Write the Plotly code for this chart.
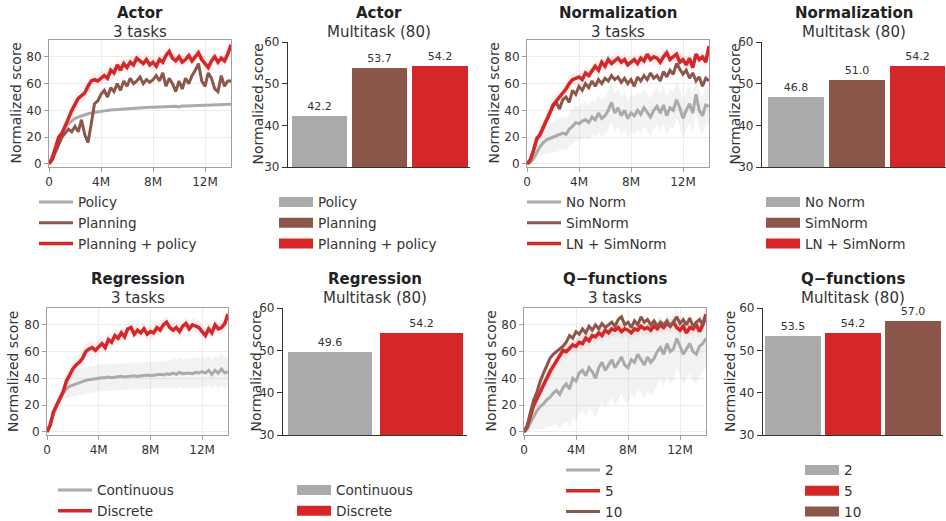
import plotly.graph_objects as go

W, H = 946, 521
FONT = "DejaVu Sans"
RED, BROWN, GRAY = "#d62728", "#8c564b", "#aaaaaa"
BAND_GRAY = "rgba(170,170,170,0.15)"
BAND_RED = "rgba(214,39,40,0.07)"

# x positions (environment steps, millions)
STEPS_M = [0.0, 0.25, 0.5, 0.75, 1.0, 1.25, 1.5, 1.75,
           2.0, 2.25, 2.5, 2.75, 3.0, 3.25, 3.5, 3.75,
           4.0, 4.25, 4.5, 4.75, 5.0, 5.25, 5.5, 5.75,
           6.0, 6.25, 6.5, 6.75, 7.0, 7.25, 7.5, 7.75,
           8.0, 8.25, 8.5, 8.75, 9.0, 9.25, 9.5, 9.75,
           10.0, 10.25, 10.5, 10.75, 11.0, 11.25, 11.5, 11.75,
           12.0, 12.25, 12.5, 12.75, 13.0, 13.25, 13.5, 13.75,
           14.0]
X_TICKVALS = [0, 4, 8, 12]
X_TICKTEXT = ["0", "4M", "8M", "12M"]

# faint spread around the red (best) curves
red_spread = [0, 1, 2, 3, 4, 5, 5, 6,
              6, 6, 6, 6, 6, 6, 5, 5,
              5, 5, 5, 5, 5, 5, 5, 5,
              5, 5, 5, 5, 5, 5, 5, 5,
              5, 5, 5, 5, 5, 5, 5, 5,
              5, 5, 5, 5, 5, 5, 5, 5,
              5, 5, 5, 5, 5, 5, 5, 5,
              4]

# ---- Actor, 3 tasks
actor_policy = [0, 6, 12, 18, 23, 27, 30, 32,
                34, 35, 36, 37, 37.5, 38, 38.5, 39,
                39.5, 39.8, 40, 40.3, 40.5, 40.8, 41, 41,
                41.3, 41.5, 41.6, 41.8, 42, 42, 42.1, 42.3,
                42.4, 42.5, 42.5, 42.7, 42.8, 43, 43, 43.1,
                42.5, 43.2, 43.3, 43.4, 43.5, 43.5, 43.6, 43.8,
                43.8, 44, 44, 44.1, 44.2, 44.3, 44.4, 44.5,
                44.5]
actor_planning = [0, 3, 9, 15, 20, 23, 26, 24,
                  28, 24, 33, 22, 16, 30, 45, 47,
                  52, 55, 50, 57, 54, 60, 55, 62,
                  58, 64, 60, 62, 65, 60, 63, 61,
                  63, 66, 62, 68, 58, 64, 60, 54,
                  62, 56, 64, 60, 66, 70, 75, 62,
                  58, 68, 64, 56, 54, 66, 58, 62,
                  62]
actor_both = [0, 4, 12, 20, 23, 28, 34, 40,
              45, 49, 51, 53, 58, 62, 63, 62,
              64, 66, 64, 70, 68, 74, 70, 75,
              72, 76, 74, 79, 77, 75, 78, 74,
              76, 73, 78, 76, 81, 84, 79, 77,
              80, 76, 78, 81, 77, 80, 83, 78,
              75, 72, 77, 80, 76, 79, 77, 82,
              89]

# ---- Normalization, 3 tasks
norm_none = [0, 1, 4, 9, 13, 16, 18, 19,
             20, 21, 22, 23, 22, 26, 28, 31,
             30, 32, 33, 31, 35, 33, 38, 34,
             36, 40, 46, 38, 42, 36, 40, 34,
             38, 36, 40, 37, 42, 38, 35, 40,
             43, 38, 44, 36, 42, 40, 48, 42,
             34, 40, 45, 38, 52, 40, 36, 44,
             43]
norm_none_spread = [0, 1, 3, 5, 7, 9, 10, 11,
                    11, 12, 12, 12, 12, 12, 13, 13,
                    13, 13, 13, 13, 13, 13, 14, 14,
                    14, 14, 14, 14, 14, 14, 14, 14,
                    14, 14, 14, 14, 14, 14, 14, 14,
                    14, 14, 14, 14, 14, 14, 14, 14,
                    14, 14, 14, 14, 14, 14, 14, 14,
                    14]
norm_simnorm = [0, 3, 10, 18, 22, 27, 33, 38,
                43, 46, 41, 48, 50, 46, 55, 52,
                58, 55, 60, 57, 62, 58, 63, 60,
                64, 62, 66, 63, 65, 61, 64, 60,
                63, 58, 65, 62, 66, 63, 68, 64,
                66, 62, 69, 65, 70, 67, 75, 71,
                67, 70, 64, 68, 62, 65, 58, 64,
                62]
norm_ln_simnorm = [0, 3, 10, 19, 22, 27, 33, 38,
                   44, 47, 49, 52, 56, 60, 63, 64,
                   65, 63, 68, 66, 70, 73, 70, 76,
                   73, 78, 75, 77, 79, 76, 78, 74,
                   76, 78, 75, 79, 77, 82, 78, 80,
                   79, 76, 80, 83, 78, 80, 82, 76,
                   78, 74, 79, 72, 82, 78, 80, 76,
                   88]

# ---- Regression, 3 tasks
reg_continuous = [0, 6, 13, 20, 25, 29, 32, 34,
                  35, 36, 37, 38, 38.5, 39, 39.5, 40,
                  40, 40.5, 40.5, 41, 40.5, 41, 41, 41.5,
                  41, 41.5, 41.5, 42, 41.5, 42, 42, 42.5,
                  42, 42.5, 42.5, 43, 42.5, 43.5, 43, 44,
                  43, 44.5, 43.5, 44, 44, 43.5, 44.5, 44,
                  45, 44, 46, 43, 46, 44, 47, 44,
                  45]
reg_continuous_spread = [0, 2, 3, 4, 5, 6, 7, 8,
                         9, 9, 10, 10, 10, 10, 10, 10,
                         10, 10, 10, 10, 10, 10, 10, 10,
                         10, 10, 10, 10, 10, 10, 10, 10,
                         10, 10, 10, 10, 10, 10, 10, 11,
                         11, 11, 11, 11, 11, 11, 11, 11,
                         11, 11, 11, 11, 11, 12, 12, 12,
                         12]
reg_discrete = [0, 5, 15, 20, 24, 30, 38, 43,
                47, 50, 52, 55, 60, 62, 63, 61,
                64, 66, 63, 69, 67, 72, 70, 74,
                71, 77, 78, 73, 76, 74, 77, 73,
                75, 74, 78, 76, 80, 82, 78, 76,
                78, 75, 79, 81, 77, 80, 79, 78,
                75, 72, 77, 74, 80, 77, 78, 81,
                88]

# ---- Q-functions, 3 tasks
q2 = [0, 2, 7, 12, 16, 19, 21, 24,
      26, 29, 31, 28, 33, 36, 32, 40,
      38, 44, 46, 42, 48, 45, 40, 48,
      52, 46, 50, 54, 48, 52, 56, 50,
      48, 54, 52, 58, 54, 50, 56, 52,
      55, 60, 63, 58, 66, 60, 62, 70,
      64, 58, 62, 66, 60, 58, 64, 66,
      70]
q2_spread = [0, 2, 6, 10, 14, 17, 19, 20,
             22, 24, 25, 26, 27, 28, 28, 29,
             30, 30, 30, 30, 30, 30, 30, 30,
             30, 28, 28, 28, 28, 27, 27, 27,
             26, 26, 26, 25, 25, 25, 25, 25,
             25, 24, 24, 24, 24, 24, 24, 22,
             22, 22, 22, 22, 22, 22, 22, 22,
             22]
q5 = [0, 4, 12, 20, 25, 30, 35, 41,
      45, 49, 53, 57, 61, 60, 63, 65,
      64, 67, 66, 70, 68, 72, 71, 74,
      72, 76, 74, 77, 76, 78, 75, 77,
      76, 74, 77, 76, 79, 77, 78, 76,
      79, 77, 80, 78, 81, 79, 82, 78,
      76, 79, 74, 78, 77, 80, 75, 80,
      88]
q10 = [0, 5, 15, 24, 30, 38, 44, 50,
       55, 58, 60, 62, 64, 67, 72, 70,
       75, 73, 77, 74, 79, 76, 80, 77,
       81, 78, 80, 82, 79, 84, 86, 80,
       82, 78, 83, 80, 86, 82, 84, 80,
       83, 79, 82, 80, 83, 79, 82, 86,
       81, 84, 80, 85, 79, 82, 84, 80,
       86]

# ---- Multitask (80) bar values
actor_bar_labels = ["Policy", "Planning", "Planning + policy"]
actor_bar_values = [42.2, 53.7, 54.2]
norm_bar_labels = ["No Norm", "SimNorm", "LN + SimNorm"]
norm_bar_values = [46.8, 51.0, 54.2]
reg_bar_labels = ["Continuous", "Discrete"]
reg_bar_values = [49.6, 54.2]
q_bar_labels = ["2", "5", "10"]
q_bar_values = [53.5, 54.2, 57.0]

fig = go.Figure()


def band(ax, mean, spread, color):
    upper = [m + s for m, s in zip(mean, spread)]
    lower = [m - s for m, s in zip(mean, spread)]
    xa, ya = "x" + ax, "y" + ax
    fig.add_trace(go.Scatter(x=STEPS_M, y=upper, mode="lines", line=dict(width=0),
                             showlegend=False, hoverinfo="skip", xaxis=xa, yaxis=ya))
    fig.add_trace(go.Scatter(x=STEPS_M, y=lower, mode="lines", line=dict(width=0),
                             fill="tonexty", fillcolor=color, showlegend=False,
                             hoverinfo="skip", xaxis=xa, yaxis=ya))


def line(ax, y, color, name, legend, width=3):
    fig.add_trace(go.Scatter(x=STEPS_M, y=y, mode="lines", name=name,
                             line=dict(color=color, width=width),
                             legend=legend, xaxis="x" + ax, yaxis="y" + ax))


def bars(ax, labels, values, colors, legend):
    idx = list(range(len(values)))
    fig.add_trace(go.Bar(x=idx, y=values, marker=dict(color=colors, line=dict(width=0)),
                         width=0.92, text=values, texttemplate="%{y:.1f}",
                         textposition="outside", cliponaxis=False,
                         textfont=dict(size=11, color="#333", family=FONT),
                         showlegend=False, xaxis="x" + ax, yaxis="y" + ax))
    for lab, c in zip(labels, colors):
        fig.add_trace(go.Scatter(x=[None], y=[None], mode="lines", name=lab,
                                 line=dict(color=c, width=10), legend=legend,
                                 xaxis="x" + ax, yaxis="y" + ax))


# Row 1
band("", actor_both, red_spread, BAND_RED)
line("", actor_policy, GRAY, "Policy", "legend")
line("", actor_planning, BROWN, "Planning", "legend")
line("", actor_both, RED, "Planning + policy", "legend", 3.5)
bars("2", actor_bar_labels, actor_bar_values, [GRAY, BROWN, RED], "legend2")

band("3", norm_none, norm_none_spread, BAND_GRAY)
band("3", norm_ln_simnorm, red_spread, BAND_RED)
line("3", norm_none, GRAY, "No Norm", "legend3")
line("3", norm_simnorm, BROWN, "SimNorm", "legend3")
line("3", norm_ln_simnorm, RED, "LN + SimNorm", "legend3", 3.5)
bars("4", norm_bar_labels, norm_bar_values, [GRAY, BROWN, RED], "legend4")

# Row 2
band("5", reg_continuous, reg_continuous_spread, BAND_GRAY)
band("5", reg_discrete, red_spread, BAND_RED)
line("5", reg_continuous, GRAY, "Continuous", "legend5")
line("5", reg_discrete, RED, "Discrete", "legend5", 3.5)
bars("6", reg_bar_labels, reg_bar_values, [GRAY, RED], "legend6")

band("7", q2, q2_spread, BAND_GRAY)
band("7", q5, red_spread, BAND_RED)
line("7", q2, GRAY, "2", "legend7")
line("7", q5, RED, "5", "legend7", 3.5)
line("7", q10, BROWN, "10", "legend7")
bars("8", q_bar_labels, q_bar_values, [GRAY, RED, BROWN], "legend8")

# ---- layout geometry (pixels)
panels = {
    # key: (x0, x1, ytop, ybottom, kind, xrange)
    "1": (49, 231, 40, 167, "line", None),
    "2": (288, 470, 42, 167, "bar", [-0.52, 2.5]),
    "3": (527, 709, 40, 167, "line", None),
    "4": (762, 946, 42, 167, "bar", [-0.56, 2.47]),
    "5": (47, 228, 308, 435, "line", None),
    "6": (283, 467, 308, 435, "bar", [-0.52, 1.5]),
    "7": (524, 706, 308, 435, "line", None),
    "8": (763, 943, 308, 435, "bar", [-0.5, 2.5]),
}
titles = {
    "1": ("Actor", "3 tasks"), "2": ("Actor", "Multitask (80)"),
    "3": ("Normalization", "3 tasks"), "4": ("Normalization", "Multitask (80)"),
    "5": ("Regression", "3 tasks"), "6": ("Regression", "Multitask (80)"),
    "7": ("Q\u2212functions", "3 tasks"), "8": ("Q\u2212functions", "Multitask (80)"),
}
ylabel_x = {"1": 16, "2": 257, "3": 494, "4": 734, "5": 12.5, "6": 255, "7": 490, "8": 729.5}

layout = dict(width=W, height=H, margin=dict(l=0, r=0, t=0, b=0, autoexpand=False),
              paper_bgcolor="white", plot_bgcolor="white",
              font=dict(family=FONT, color="#333", size=12),
              showlegend=True, bargap=0)
annotations = []
tickfont = dict(size=12, color="#333", family=FONT)
for k, (x0, x1, yt, yb, kind, xr) in panels.items():
    xname = "xaxis" if k == "1" else "xaxis" + k
    yname = "yaxis" if k == "1" else "yaxis" + k
    xdom = [x0 / W, min(x1 / W, 1.0)]
    ydom = [1 - yb / H, 1 - yt / H]
    anchor_x = "y" if k == "1" else "y" + k
    anchor_y = "x" if k == "1" else "x" + k
    if kind == "line":
        layout[xname] = dict(domain=xdom, anchor=anchor_x, range=[0, 14],
                             tickvals=X_TICKVALS, ticktext=X_TICKTEXT,
                             showline=True, mirror=True, linecolor="#a0a0a0", linewidth=1,
                             showgrid=True, gridcolor="#ececec", zeroline=False,
                             ticks="outside", ticklen=4, tickcolor="#a0a0a0",
                             tickfont=tickfont)
        layout[yname] = dict(domain=ydom, anchor=anchor_y, range=[-2.3, 92.6],
                             tickvals=[0, 20, 40, 60, 80],
                             showline=True, mirror=True, linecolor="#a0a0a0", linewidth=1,
                             showgrid=True, gridcolor="#ececec", zeroline=False,
                             ticks="outside", ticklen=4, tickcolor="#a0a0a0",
                             tickfont=tickfont)
    else:
        layout[xname] = dict(domain=xdom, anchor=anchor_x, range=xr,
                             showline=True, linecolor="#333", linewidth=1.2,
                             showgrid=False, zeroline=False, showticklabels=False,
                             ticks="")
        layout[yname] = dict(domain=ydom, anchor=anchor_y, range=[30, 60],
                             tickvals=[30, 40, 50, 60],
                             showline=True, linecolor="#333", linewidth=1.2,
                             showgrid=False, zeroline=False,
                             ticks="outside", ticklen=5, tickcolor="#333",
                             tickfont=tickfont)
    t1, t2 = titles[k]
    cx = (x0 + min(x1, W)) / 2 / W
    ttop = 12.5 if yt < 100 else 279
    annotations.append(dict(text="<b>" + t1 + "</b>", x=cx, y=1 - ttop / H,
                            xref="paper", yref="paper", showarrow=False,
                            xanchor="center", yanchor="middle",
                            font=dict(size=15, color="#222", family=FONT)))
    annotations.append(dict(text=t2, x=cx, y=1 - (ttop + 19) / H,
                            xref="paper", yref="paper", showarrow=False,
                            xanchor="center", yanchor="middle",
                            font=dict(size=15, color="#333", family=FONT)))
    annotations.append(dict(text="Normalized score", x=ylabel_x[k] / W,
                            y=1 - ((yt + yb) / 2) / H, xref="paper", yref="paper",
                            showarrow=False, textangle=-90,
                            xanchor="center", yanchor="middle",
                            font=dict(size=14, color="#333", family=FONT)))
layout["annotations"] = annotations

# legends (pixel position of first symbol start and first item center)
legend_pos = {
    "legend": (39, 203), "legend2": (279, 203), "legend3": (527, 203), "legend4": (766, 203),
    "legend5": (58, 491), "legend6": (297, 491), "legend7": (566, 471), "legend8": (805, 471),
}
for name, (lx, ly) in legend_pos.items():
    layout[name] = dict(x=(lx - 5) / W, y=1 - (ly - 16.3) / H, xanchor="left", yanchor="top",
                        xref="paper", yref="paper", bgcolor="rgba(0,0,0,0)",
                        font=dict(size=13.6, color="#333", family=FONT),
                        traceorder="normal", itemwidth=34, tracegroupgap=0)

fig.update_layout(**layout)
fig.write_html("out.html", config={"displayModeBar": False},
               post_script="document.body.style.margin='0';document.body.style.overflow='hidden';")
